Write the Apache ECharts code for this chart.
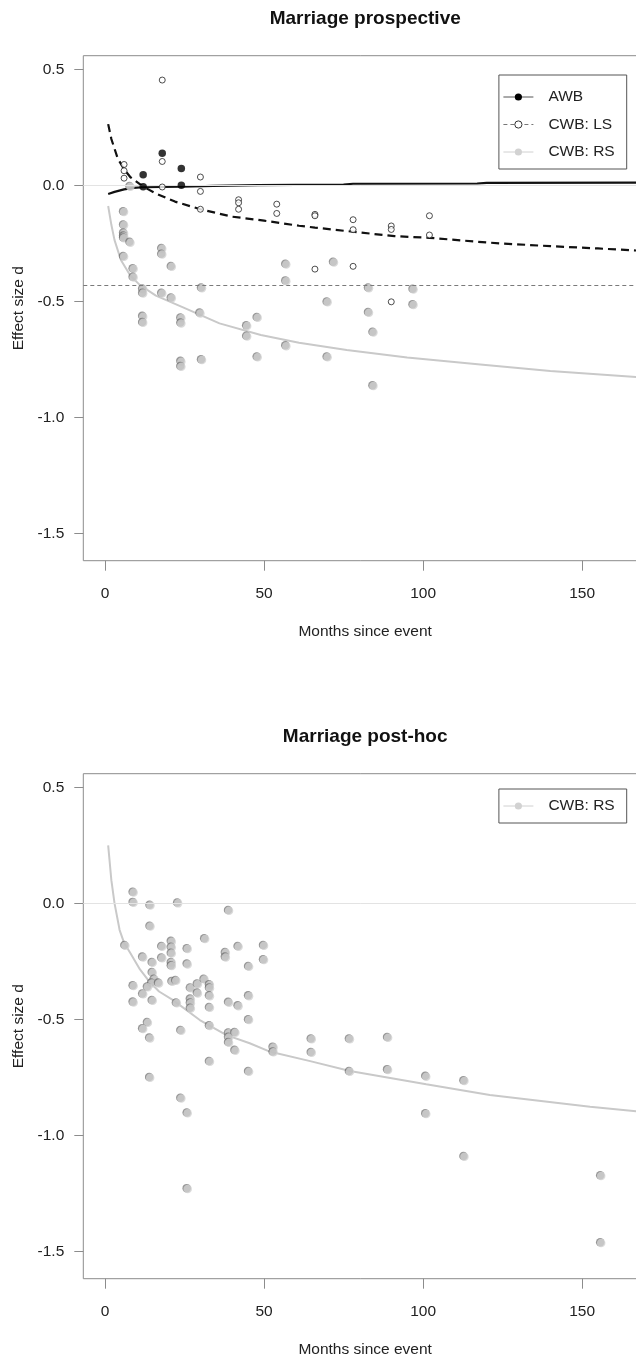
<!DOCTYPE html>
<html>
<head>
<meta charset="utf-8">
<script src="https://cdn.jsdelivr.net/npm/echarts@6/dist/echarts.min.js"></script>
<style>
  html, body { margin: 0; padding: 0; background: #ffffff; }
  #chart { width: 636px; height: 1361px; }
</style>
</head>
<body>
<div id="chart"></div>
<script>
// ---- Marriage prospective: fitted curves ----
const awbLineMonths = [1, 3, 6, 9, 12, 18, 24, 34, 48, 60, 75, 78, 117, 120, 170];
const awbLineValues = [-0.037, -0.028, -0.017, -0.011, -0.008, -0.007, -0.006, -0.002, 0.001, 0.002, 0.003, 0.007, 0.008, 0.011, 0.012];

const lsLineMonths = [1, 2, 4, 6, 8, 12, 16, 22, 30, 40, 50, 61, 66, 78, 91, 102, 117, 124, 140, 155, 170];
const lsLineValues = [0.264, 0.2, 0.116, 0.07, 0.035, -0.005, -0.035, -0.07, -0.103, -0.135, -0.152, -0.174, -0.182, -0.2, -0.219, -0.226, -0.243, -0.25, -0.262, -0.272, -0.283];

const rsLineMonths = [1, 2, 3, 5, 8, 11, 16, 24, 36, 49, 61, 76, 95, 118, 140, 170];
const rsLineValues = [-0.089, -0.17, -0.236, -0.322, -0.39, -0.43, -0.475, -0.523, -0.595, -0.645, -0.678, -0.71, -0.742, -0.772, -0.8, -0.829];

// ---- Marriage prospective: study effect sizes ----
const awbMonths = [12, 12, 18, 24, 24];
const awbValues = [0.046, -0.006, 0.138, 0.073, 0.001];

const lsMonths = [6, 6, 6, 18, 18, 18, 30, 30, 30, 42, 42, 42, 54, 54, 66, 66, 66, 78, 78, 78, 90, 90, 90, 102, 102];
const lsValues = [0.09, 0.063, 0.031, 0.454, 0.103, -0.007, 0.036, -0.026, -0.103, -0.062, -0.075, -0.103, -0.081, -0.121, -0.125, -0.131, -0.361, -0.148, -0.191, -0.349, -0.175, -0.19, -0.502, -0.131, -0.214];

const rsMonths = [6, 6, 6, 6, 6, 8, 8, 6, 9, 9, 12, 12, 12, 12, 18, 18, 21, 18, 21, 24, 24, 24, 24, 30.5, 30, 30.5, 44.7, 44.7, 48, 48, 57, 57, 57, 72, 70, 70, 83, 83, 84.4, 84.4, 97, 97];
const rsValues = [-0.115, -0.172, -0.207, -0.22, -0.228, -0.006, -0.247, -0.308, -0.361, -0.397, -0.448, -0.466, -0.566, -0.592, -0.273, -0.298, -0.351, -0.466, -0.487, -0.573, -0.595, -0.76, -0.782, -0.444, -0.552, -0.753, -0.606, -0.652, -0.571, -0.741, -0.341, -0.413, -0.693, -0.333, -0.504, -0.741, -0.444, -0.549, -0.634, -0.865, -0.449, -0.516];

// Dashed horizontal level in the prospective panel
const referenceLevel = -0.43;

// ---- Marriage post-hoc ----
const postLineMonths = [1, 2, 3, 4.6, 6, 8, 11, 14, 17, 21.4, 29.8, 38.2, 45.5, 52, 64.5, 77, 101, 121, 152.5, 170];
const postLineValues = [0.25, 0.1, 0.0, -0.115, -0.17, -0.215, -0.285, -0.338, -0.38, -0.417, -0.503, -0.568, -0.603, -0.64, -0.68, -0.723, -0.78, -0.826, -0.877, -0.9];

const postMonths = [9, 9, 14.3, 14.3, 23, 39, 6.4, 18, 21, 21, 21, 26, 31.5, 38, 42, 50, 12, 15, 18, 21, 21, 26, 38, 50, 45.3, 15, 15.6, 14.8, 17, 9, 13.5, 12, 9, 15, 21.2, 22.4, 22.6, 27, 27, 27, 27, 29.2, 29.2, 31.3, 33, 33, 33, 33, 33, 39, 42, 45.3, 45.3, 13.5, 12, 14.2, 24, 39, 39, 39, 41, 41, 33, 45.3, 53, 53, 14.2, 24, 26, 26, 65, 65, 77, 77, 89, 89, 101, 101, 113, 113, 156, 156];
const postValues = [0.047, 0.003, -0.009, -0.1, 0.0, -0.032, -0.183, -0.187, -0.165, -0.19, -0.216, -0.197, -0.154, -0.213, -0.187, -0.183, -0.233, -0.256, -0.237, -0.256, -0.27, -0.263, -0.233, -0.244, -0.273, -0.299, -0.328, -0.345, -0.345, -0.356, -0.362, -0.392, -0.427, -0.42, -0.338, -0.334, -0.431, -0.366, -0.414, -0.431, -0.453, -0.349, -0.388, -0.328, -0.352, -0.366, -0.4, -0.45, -0.529, -0.428, -0.443, -0.4, -0.503, -0.515, -0.542, -0.582, -0.549, -0.56, -0.578, -0.601, -0.558, -0.635, -0.683, -0.726, -0.621, -0.642, -0.752, -0.841, -0.905, -1.231, -0.586, -0.644, -0.586, -0.726, -0.579, -0.718, -0.747, -0.908, -0.766, -1.092, -1.175, -1.464];

// Axis ticks
const xTicks = [0, 50, 100, 150];
const yTicks = [-1.5, -1.0, -0.5, 0.0, 0.5];

const zip = (xs, ys) => xs.map((x, i) => [x, ys[i]]);

const FONT = '"Liberation Sans", Arial, Helvetica, sans-serif';
const TEXT = '#222222';
const FRAME = '#8c8c8c';
const GREY_PT = '#d2d2d2';
const GREY_LINE = '#c9c9c9';

const PANEL_TOP = [55.7, 773.7];
const PANEL_H = 505;

// The plotting frame runs past the right edge of the page
function makeGrid(i) {
  return {
    left: 83.3, width: 563.7, top: PANEL_TOP[i], height: PANEL_H,
    outerBoundsMode: 'none',
    show: true, borderColor: FRAME, borderWidth: 1, backgroundColor: 'transparent',
    containLabel: false
  };
}

function makeX(i) {
  return {
    type: 'value', gridIndex: i, min: -6.82, max: 170.4,
    name: 'Months since event', nameLocation: 'middle', nameGap: 63,
    nameTextStyle: { fontFamily: FONT, fontSize: 15.5, color: TEXT },
    axisLine: { show: false, onZero: false },
    axisTick: { show: true, length: 10, lineStyle: { color: FRAME, width: 1 }, customValues: xTicks },
    axisLabel: { show: true, margin: 25, fontFamily: FONT, fontSize: 15.5, color: TEXT, customValues: xTicks, formatter: v => String(v) },
    splitLine: { show: false }
  };
}

function makeY(i) {
  return {
    type: 'value', gridIndex: i, min: -1.618, max: 0.559,
    name: 'Effect size d', nameLocation: 'middle', nameGap: 49,
    nameTextStyle: { fontFamily: FONT, fontSize: 15.5, color: TEXT },
    axisLine: { show: false, onZero: false },
    axisTick: { show: true, length: 9, lineStyle: { color: FRAME, width: 1 }, customValues: yTicks },
    axisLabel: { show: true, margin: 19, fontFamily: FONT, fontSize: 15.5, color: TEXT, customValues: yTicks, formatter: v => v.toFixed(1) },
    splitLine: { show: false }
  };
}

const greyPoint = {
  color: GREY_PT,
  shadowColor: 'rgba(90,90,90,0.8)', shadowBlur: 0, shadowOffsetX: -1, shadowOffsetY: -0.8
};

const zeroLine = {
  silent: true, symbol: 'none', label: { show: false },
  lineStyle: { color: '#e3e3e3', width: 1, type: 'solid' },
  data: [{ yAxis: 0 }]
};

const option = {
  animation: false,
  backgroundColor: '#ffffff',
  textStyle: { fontFamily: FONT },
  title: [
    { text: 'Marriage prospective', left: 365.2, top: 9.4, textAlign: 'center', padding: 0,
      textStyle: { fontFamily: FONT, fontSize: 19, fontWeight: 'bold', color: '#111' } },
    { text: 'Marriage post-hoc', left: 365.2, top: 727.4, textAlign: 'center', padding: 0,
      textStyle: { fontFamily: FONT, fontSize: 19, fontWeight: 'bold', color: '#111' } }
  ],
  legend: [
    {
      orient: 'vertical', right: 9.3, top: 75, padding: [14, 12, 9, 4],
      itemWidth: 30, itemHeight: 9, itemGap: 11.5, selectedMode: false,
      borderColor: '#555', borderWidth: 1, backgroundColor: '#fff',
      textStyle: { fontFamily: FONT, fontSize: 15.5, color: TEXT, padding: [0, 0, 0, 10] },
      data: [
        { name: 'AWB', lineStyle: { width: 1, color: '#555', type: 'solid' }, itemStyle: { color: '#000', borderWidth: 0 } },
        { name: 'CWB: LS', lineStyle: { width: 1, color: '#777', type: [4, 3] }, itemStyle: { color: '#fff', borderColor: '#333', borderWidth: 1 } },
        { name: 'CWB: RS', lineStyle: { width: 1, color: '#d0d0d0', type: 'solid' }, itemStyle: { color: GREY_PT, borderWidth: 0 } }
      ]
    },
    {
      orient: 'vertical', right: 9.3, top: 789, padding: [9, 12, 9, 4],
      itemWidth: 30, itemHeight: 9, itemGap: 11.5, selectedMode: false,
      borderColor: '#555', borderWidth: 1, backgroundColor: '#fff',
      textStyle: { fontFamily: FONT, fontSize: 15.5, color: TEXT, padding: [0, 0, 0, 10] },
      data: [
        { name: 'CWB: RS', lineStyle: { width: 1, color: '#d0d0d0', type: 'solid' }, itemStyle: { color: GREY_PT, borderWidth: 0 } }
      ]
    }
  ],
  grid: [makeGrid(0), makeGrid(1)],
  xAxis: [makeX(0), makeX(1)],
  yAxis: [makeY(0), makeY(1)],
  series: [
    // fitted curves, prospective
    {
      name: 'AWB', type: 'line', xAxisIndex: 0, yAxisIndex: 0, z: 3,
      data: zip(awbLineMonths, awbLineValues), showSymbol: false, symbol: 'circle',
      itemStyle: { color: '#000' }, lineStyle: { color: '#111', width: 2.2 },
      markLine: zeroLine
    },
    {
      name: 'CWB: LS', type: 'line', xAxisIndex: 0, yAxisIndex: 0, z: 3,
      data: zip(lsLineMonths, lsLineValues), showSymbol: false, symbol: 'circle',
      itemStyle: { color: '#fff', borderColor: '#333', borderWidth: 1 },
      lineStyle: { color: '#111', width: 2.2, type: [8, 5] },
      markLine: {
        silent: true, symbol: 'none', label: { show: false },
        lineStyle: { color: '#7a7a7a', width: 1, type: [4, 3] },
        data: [{ yAxis: referenceLevel }]
      }
    },
    {
      name: 'CWB: RS', type: 'line', xAxisIndex: 0, yAxisIndex: 0, z: 2,
      data: zip(rsLineMonths, rsLineValues), showSymbol: false, symbol: 'circle',
      itemStyle: { color: GREY_PT }, lineStyle: { color: GREY_LINE, width: 2 }
    },
    // study points, prospective
    {
      name: 'CWB: RS', type: 'scatter', xAxisIndex: 0, yAxisIndex: 0, z: 4,
      data: zip(rsMonths, rsValues), symbol: 'circle', symbolSize: 8.5, itemStyle: greyPoint
    },
    {
      name: 'CWB: LS', type: 'scatter', xAxisIndex: 0, yAxisIndex: 0, z: 5,
      data: zip(lsMonths, lsValues), symbol: 'circle', symbolSize: 6,
      itemStyle: { color: '#fff', borderColor: '#222', borderWidth: 1 }
    },
    {
      name: 'AWB', type: 'scatter', xAxisIndex: 0, yAxisIndex: 0, z: 6,
      data: zip(awbMonths, awbValues), symbol: 'circle', symbolSize: 7.5,
      itemStyle: { color: '#000' }
    },
    // post-hoc
    {
      name: 'CWB: RS', type: 'line', xAxisIndex: 1, yAxisIndex: 1, z: 2,
      data: zip(postLineMonths, postLineValues), showSymbol: false, symbol: 'circle',
      itemStyle: { color: GREY_PT }, lineStyle: { color: GREY_LINE, width: 2 },
      markLine: zeroLine
    },
    {
      name: 'CWB: RS', type: 'scatter', xAxisIndex: 1, yAxisIndex: 1, z: 4,
      data: zip(postMonths, postValues), symbol: 'circle', symbolSize: 8.5, itemStyle: greyPoint
    }
  ]
};

const chart = echarts.init(document.getElementById('chart'), null, { renderer: 'canvas' });
chart.setOption(option);
</script>
</body>
</html>
